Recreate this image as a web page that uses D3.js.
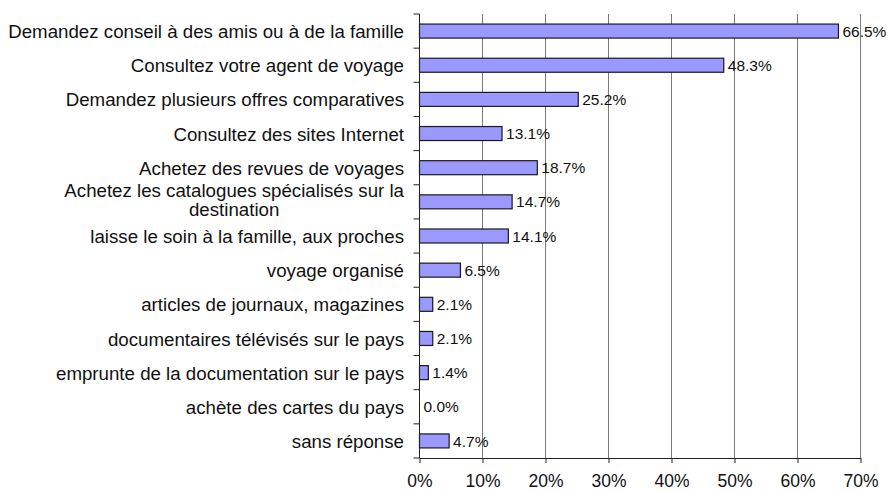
<!DOCTYPE html>
<html>
<head>
<meta charset="utf-8">
<script src="https://cdn.jsdelivr.net/npm/d3@7"></script>
<style>
  html, body { margin: 0; padding: 0; background: #fff; }
  svg { display: block; font-family: Arial, "Liberation Sans", sans-serif; }
</style>
</head>
<body>
<svg id="chart" width="888" height="492"></svg>
<script>
// Sources d'information consultées avant un voyage (en %)
const categories = [
  ["Demandez conseil à des amis ou à de la famille"],
  ["Consultez votre agent de voyage"],
  ["Demandez plusieurs offres comparatives"],
  ["Consultez des sites Internet"],
  ["Achetez des revues de voyages"],
  ["Achetez les catalogues spécialisés sur la", "destination"],
  ["laisse le soin à la famille, aux proches"],
  ["voyage organisé"],
  ["articles de journaux, magazines"],
  ["documentaires télévisés sur le pays"],
  ["emprunte de la documentation sur le pays"],
  ["achète des cartes du pays"],
  ["sans réponse"]
];
const values = [66.5, 48.3, 25.2, 13.1, 18.7, 14.7, 14.1, 6.5, 2.1, 2.1, 1.4, 0.0, 4.7];
const xTicks = [0, 10, 20, 30, 40, 50, 60, 70];

const svg = d3.select("#chart");
const plotLeft = 419.5, plotRight = 860.5, plotTop = 14, plotBottom = 458;

const x = d3.scaleLinear().domain([0, 70]).range([plotLeft, plotRight]);
const y = d3.scaleBand().domain(d3.range(categories.length)).range([plotTop, plotBottom]).paddingInner(0.59).paddingOuter(0.295);
const yBand = d3.scaleBand().domain(d3.range(categories.length)).range([plotTop, plotBottom]);

// vertical gridlines
svg.append("g").selectAll("line")
  .data(xTicks.filter(d => d > 0))
  .join("line")
  .attr("x1", d => x(d)).attr("x2", d => x(d))
  .attr("y1", plotTop).attr("y2", plotBottom)
  .attr("stroke", "#7a7a7a").attr("stroke-width", 1);

// bars
svg.append("g").selectAll("rect")
  .data(values)
  .join("rect")
  .attr("x", x(0))
  .attr("y", (d, i) => y(i))
  .attr("width", d => x(d) - x(0))
  .attr("height", y.bandwidth())
  .attr("fill", d => d > 0 ? "#9999ff" : "none")
  .attr("stroke", d => d > 0 ? "#1a1a1a" : "none")
  .attr("stroke-width", 1.2);

// value labels
svg.append("g").selectAll("text")
  .data(values)
  .join("text")
  .attr("x", d => x(d) + 4)
  .attr("y", (d, i) => y(i) + y.bandwidth() / 2)
  .attr("dy", "0.36em")
  .attr("font-size", 15.5)
  .attr("fill", "#111")
  .text(d => d.toFixed(1) + "%");

// x axis
const xAxis = svg.append("g")
  .attr("transform", `translate(0,${plotBottom})`)
  .call(d3.axisBottom(x).tickValues(xTicks).tickFormat(d => d + "%").tickSize(5).tickSizeOuter(0).tickPadding(12));
xAxis.select(".domain").attr("stroke", "#222");
xAxis.selectAll("line").attr("stroke", "#222");
xAxis.selectAll("text").attr("font-size", 17.5).attr("fill", "#111").attr("font-family", "Arial, 'Liberation Sans', sans-serif");

// y axis with ticks at category boundaries
const yAxisG = svg.append("g").attr("transform", `translate(${plotLeft},0)`);
yAxisG.append("line").attr("x1", 0).attr("x2", 0).attr("y1", plotTop).attr("y2", plotBottom).attr("stroke", "#222");
yAxisG.selectAll("line.tick")
  .data(d3.range(categories.length + 1))
  .join("line")
  .attr("class", "tick")
  .attr("x1", -6).attr("x2", 0)
  .attr("y1", i => i < categories.length ? yBand(i) : plotBottom)
  .attr("y2", i => i < categories.length ? yBand(i) : plotBottom)
  .attr("stroke", "#222");

// category labels (wrapped labels: first line right-aligned, next line centred under it)
const labelX = 404;
const labels = svg.append("g").attr("font-size", 18.7).attr("fill", "#111");
categories.forEach((lines, i) => {
  const cy = yBand(i) + yBand.bandwidth() / 2;
  if (lines.length === 1) {
    labels.append("text").attr("x", labelX).attr("y", cy).attr("dy", "0.38em")
      .attr("text-anchor", "end").text(lines[0]);
  } else {
    const t = labels.append("text");
    const first = t.append("tspan").attr("x", labelX).attr("y", cy - 11.6).attr("dy", "0.38em")
      .attr("text-anchor", "end").text(lines[0]);
    const w = first.node().getComputedTextLength();
    t.append("tspan").attr("x", labelX - w / 2).attr("y", cy + 6.8).attr("dy", "0.38em")
      .attr("text-anchor", "middle").text(lines[1]);
  }
});
</script>
</body>
</html>
